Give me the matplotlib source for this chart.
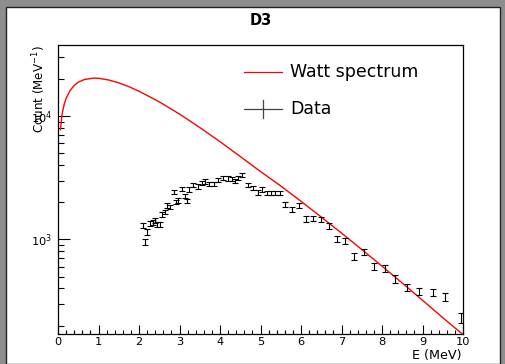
import matplotlib
matplotlib.use("Agg")
import matplotlib.pyplot as plt
from matplotlib.patches import Rectangle
from matplotlib.lines import Line2D
from matplotlib.ticker import LogLocator, NullFormatter, MultipleLocator, LogFormatterSciNotation

plt.rcParams['font.family'] = ['DejaVu Sans']

# Watt spectrum curve
watt_e = [0.06, 0.1, 0.15, 0.2, 0.3, 0.4, 0.5, 0.65, 0.87, 1.0, 1.25, 1.5, 1.75, 2.0,
          2.5, 3.0, 3.5, 4.0, 4.5, 5.0, 5.5, 6.0, 6.5, 7.0, 7.5, 8.0, 8.5, 9.0, 9.5, 10.0]
watt_v = [7762, 10328, 12331, 13900, 16144, 17701, 18793, 19770, 20277, 20230, 19590, 18578,
          17298, 15885, 13032, 10375, 8072, 6194, 4699, 3548, 2710, 2037, 1517, 1125, 828,
          607, 443, 321, 232, 169]

# Data points
data_e = [2.11, 2.15, 2.19, 2.27, 2.35, 2.40, 2.44, 2.52, 2.56, 2.64, 2.68, 2.77, 2.86, 2.91,
          2.97, 3.05, 3.14, 3.18, 3.24, 3.34, 3.45, 3.55, 3.63, 3.73, 3.84, 3.96, 4.08, 4.19,
          4.29, 4.37, 4.45, 4.55, 4.70, 4.82, 4.93, 5.04, 5.17, 5.27, 5.37, 5.48, 5.61, 5.79,
          5.95, 6.12, 6.29, 6.49, 6.70, 6.88, 7.09, 7.32, 7.56, 7.80, 8.07, 8.33, 8.61, 8.92,
          9.25, 9.56, 9.94]
data_v = [1290, 955, 1150, 1350, 1365, 1430, 1330, 1320, 1600, 1670, 1890, 1830, 2430, 2010,
          2075, 2550, 2240, 2050, 2540, 2750, 2690, 2870, 2940, 2800, 2800, 3020, 3160, 3125,
          3090, 2970, 3160, 3310, 2750, 2620, 2400, 2535, 2380, 2380, 2380, 2380, 1915, 1742,
          1890, 1463, 1483, 1446, 1282, 1005, 964, 731, 798, 603, 580, 479, 409, 380,
          372, 344, 231]
data_err = [60, 50, 55, 60, 60, 65, 60, 60, 70, 75, 80, 80, 100, 85,
            90, 105, 95, 90, 105, 115, 110, 120, 120, 115, 115, 125, 130, 130,
            125, 120, 130, 135, 115, 110, 100, 105, 100, 100, 100, 100, 85, 80,
            85, 70, 70, 70, 65, 55, 55, 45, 45, 38, 36, 32, 28, 26,
            25, 25, 22]

W, H = 506, 364
fig = plt.figure(figsize=(W / 100, H / 100), dpi=100, facecolor='#8e8e8e')
# white canvas with dark frame
fig.patches.append(Rectangle((6.5 / W, 0), (500 - 6.5) / W, (H - 6.5) / H,
                             transform=fig.transFigure, facecolor='white',
                             edgecolor='#222222', linewidth=1.0, zorder=-5))

ax = fig.add_axes([58 / W, (H - 334) / H, (463 - 58) / W, (334 - 44.5) / H])
ax.set_zorder(2)
ax.set_facecolor('white')
ax.plot(watt_e, watt_v, color='red', lw=1.0, zorder=3, clip_on=True)
ax.errorbar(data_e, data_v, yerr=data_err, fmt='none', ecolor='black', elinewidth=0.8,
            capsize=2.2, capthick=0.8, zorder=4)

ax.set_yscale('log')
ax.set_xlim(0, 10)
ax.set_ylim(171, 38000)

ax.xaxis.set_major_locator(MultipleLocator(1))
ax.xaxis.set_minor_locator(MultipleLocator(0.2))
ax.yaxis.set_major_locator(LogLocator(base=10, numticks=10))
ax.yaxis.set_minor_locator(LogLocator(base=10, subs=[2, 3, 4, 5, 6, 7, 8, 9], numticks=20))
ax.yaxis.set_major_formatter(LogFormatterSciNotation())
ax.yaxis.set_minor_formatter(NullFormatter())

ax.tick_params(axis='x', which='major', direction='in', length=6.5, width=0.8,
               labelsize=8.2, pad=2, top=False)
ax.tick_params(axis='x', which='minor', direction='in', length=3.2, width=0.8, top=False)
ax.tick_params(axis='y', which='major', direction='in', length=8.6, width=0.8,
               labelsize=8.2, pad=4, right=False)
ax.tick_params(axis='y', which='minor', direction='in', length=4.3, width=0.8, right=False)
for s in ax.spines.values():
    s.set_linewidth(0.9)
    s.set_color('black')

fig.text(260.5 / W, 1 - 20.5 / H, 'D3', ha='center', va='center', fontsize=10.5,
         fontweight='bold', zorder=5)
fig.text(462 / W, 1 - 356 / H, 'E (MeV)', ha='right', va='center', fontsize=9.2, zorder=5)
fig.text(39 / W, 1 - 45 / H, 'Count (MeV$^{-1}$)', ha='center', va='top', rotation=90,
         fontsize=8.6, zorder=5)

# legend
fig.lines.append(Line2D([244 / W, 282 / W], [1 - 72 / H, 1 - 72 / H], color='red', lw=0.9,
                        transform=fig.transFigure, zorder=5))
fig.text(290 / W, 1 - 72 / H, 'Watt spectrum', ha='left', va='center', fontsize=12.5, zorder=5)
fig.lines.append(Line2D([244 / W, 282 / W], [1 - 109 / H, 1 - 109 / H], color='#444444', lw=0.9,
                        transform=fig.transFigure, zorder=5))
fig.lines.append(Line2D([263 / W, 263 / W], [1 - 100 / H, 1 - 117.5 / H], color='#444444', lw=0.9,
                        transform=fig.transFigure, zorder=5))
fig.text(290 / W, 1 - 109 / H, 'Data', ha='left', va='center', fontsize=12.5, zorder=5)

fig.savefig('out.png', dpi=100, facecolor=fig.get_facecolor())
